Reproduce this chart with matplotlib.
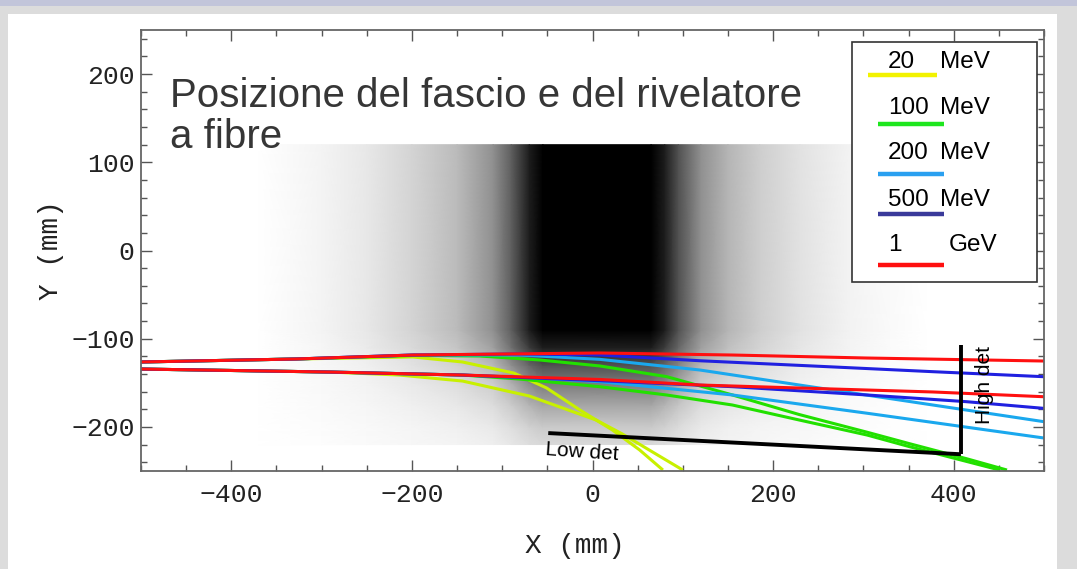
import numpy as np
import matplotlib
matplotlib.use("Agg")
import matplotlib.pyplot as plt
from matplotlib.patches import Rectangle
from matplotlib.lines import Line2D
from matplotlib.ticker import MultipleLocator

# ---------------- data (mm) ----------------
# beam intensity profiles (darkness 0..1)
beam_x = [-370, -300, -250, -200, -150, -110, -90, -70, -55, 65, 80, 95, 120, 150, 185, 230, 285, 330, 370]
beam_xprof = [0.0, 0.09, 0.17, 0.27, 0.38, 0.52, 0.7, 0.9, 1.0, 1.0, 0.9, 0.75, 0.52, 0.4, 0.3, 0.2, 0.1, 0.04, 0.0]
beam_y = [-220, -200, -175, -150, -130, -110, -90, 120]
beam_yprof = [0.25, 0.32, 0.45, 0.6, 0.75, 0.9, 1.0, 1.0]

# 20 MeV tracks
e20_up_x = [-500, -328, -199, -144, -87, -51, -14, 22, 52, 78]
e20_up_y = [-126.4, -123, -120.7, -126.4, -139, -155.8, -180.8, -203.5, -226, -248.9]
e20_lo_x = [-500, -291, -214, -144, -70, 4, 33, 100]
e20_lo_y = [-134.4, -137.8, -141.2, -148, -165, -192.2, -208, -248.9]
# 100 MeV tracks
e100_up_x = [-500, -328, -198, -125, -59, 8, 82, 155, 229, 304, 351, 414, 459]
e100_up_y = [-126.4, -123, -119, -119.6, -124.1, -130.9, -143, -163.8, -186, -206, -219, -236, -248.9]
e100_lo_x = [-500, -291, -144, -81, 8, 82, 155, 229, 304, 351, 451]
e100_lo_y = [-134.4, -137.8, -141.2, -145.7, -154.4, -163.8, -175.2, -192.2, -209.2, -222.4, -248.9]
# 200 MeV tracks
e200_up_x = [-500, -328, -199, -81, 8, 119, 229, 340, 500]
e200_up_y = [-126.4, -123, -118.5, -118.5, -123.4, -135.5, -152.5, -169.5, -194.1]
e200_lo_x = [-500, -291, -144, -59, 8, 155, 304, 500]
e200_lo_y = [-134.4, -137.8, -141.2, -144.6, -148.7, -163.8, -184.5, -212.6]
# 500 MeV tracks
e500_up_x = [-500, -328, -199, -81, 8, 119, 266, 377, 500]
e500_up_y = [-126.4, -123, -118.5, -117.3, -118.5, -125, -132, -137.4, -143.1]
e500_lo_x = [-500, -291, -144, 8, 155, 304, 414, 500]
e500_lo_y = [-134.4, -137.8, -141.2, -147.6, -154.4, -163.8, -171.4, -179]
# 1 GeV tracks
e1g_up_x = [-500, -328, -199, 8, 155, 304, 500]
e1g_up_y = [-126.4, -123, -118.5, -116.2, -118.5, -121.9, -125.3]
e1g_lo_x = [-500, -291, -144, 8, 119, 229, 377, 500]
e1g_lo_y = [-134.4, -137.8, -141.2, -146.2, -152.5, -155.9, -160.4, -165.8]

# detectors
det_low_x = [-49, 408]
det_low_y = [-207, -231]
det_high_x = [408, 408]
det_high_y = [-231, -107]

x_ticks = [-400, -200, 0, 200, 400]
y_ticks = [-200, -100, 0, 100, 200]

legend_numbers = ["20", "100", "200", "500", "1"]
legend_units = ["MeV", "MeV", "MeV", "MeV", "GeV"]

# ---------------- figure ----------------
fig = plt.figure(figsize=(10.77, 5.69), dpi=100)
fig.patch.set_facecolor("#dcdcdc")
fig.add_artist(Rectangle((8 / 1077, 0), (1057 - 8) / 1077, (569 - 14) / 569,
                         transform=fig.transFigure, facecolor="white",
                         edgecolor="none", zorder=-10))
fig.add_artist(Rectangle((0, 1 - 6 / 569), 1, 6 / 569, transform=fig.transFigure,
                         facecolor="#c2c5da", edgecolor="none", zorder=-10))

ax = fig.add_axes([141 / 1077, 1 - 471 / 569, 903 / 1077, 441 / 569])
ax.set_xlim(-500, 500)
ax.set_ylim(-250, 250)

# beam image
C = np.outer(beam_yprof, beam_xprof)
ax.pcolormesh(beam_x, beam_y, C, shading="gouraud", cmap="Greys",
              vmin=0, vmax=1, zorder=0.5)

track_sets = [
    ((e20_up_x, e20_up_y), (e20_lo_x, e20_lo_y), "#c8f000"),
    ((e100_up_x, e100_up_y), (e100_lo_x, e100_lo_y), "#22e000"),
    ((e200_up_x, e200_up_y), (e200_lo_x, e200_lo_y), "#1aa8ee"),
    ((e500_up_x, e500_up_y), (e500_lo_x, e500_lo_y), "#2020e0"),
    ((e1g_up_x, e1g_up_y), (e1g_lo_x, e1g_lo_y), "#ff1010"),
]
for up, lo, col in track_sets:
    ax.plot(up[0], up[1], color=col, lw=2.2, zorder=2, solid_capstyle="butt")
    ax.plot(lo[0], lo[1], color=col, lw=2.2, zorder=2, solid_capstyle="butt")

ax.plot(det_low_x, det_low_y, color="black", lw=2.8, zorder=3, solid_capstyle="butt")
ax.plot(det_high_x, det_high_y, color="black", lw=2.8, zorder=3, solid_capstyle="butt")

ax.text(-12, -228.5, "Low det", family="Liberation Sans", fontsize=15,
        rotation=-4, ha="center", va="center", color="black", zorder=4)
ax.text(434, -152.5, "High det", family="Liberation Sans", fontsize=15,
        rotation=90, ha="center", va="center", color="black", zorder=4)

ax.text(-468, 116, "Posizione del fascio e del rivelatore\na fibre",
        family="Liberation Sans", fontsize=29, color="#363636",
        ha="left", va="baseline", linespacing=1.12, zorder=5)

# legend box (custom, text above coloured line)
ax.add_patch(Rectangle((0.787, 0.4286), 0.992 - 0.787, 0.9735 - 0.4286,
                       transform=ax.transAxes, facecolor="white",
                       edgecolor="#333333", lw=1.2, zorder=6))
leg_colors = ["#f2f200", "#1ee61e", "#2aa0f0", "#3a3a9a", "#ff1010"]
leg_text_y = [0.928, 0.823, 0.721, 0.6145, 0.5125]
leg_line_y = [0.898, 0.787, 0.673, 0.582, 0.4664]
leg_line_x0 = [0.805, 0.816, 0.816, 0.816, 0.816]
leg_line_x1 = [0.881, 0.889, 0.889, 0.889, 0.889]
leg_unit_x = [0.885, 0.885, 0.885, 0.885, 0.894]
for i in range(5):
    ax.add_line(Line2D([leg_line_x0[i], leg_line_x1[i]], [leg_line_y[i]] * 2,
                       transform=ax.transAxes, color=leg_colors[i], lw=3.2,
                       zorder=7, solid_capstyle="butt"))
    ax.text(0.827, leg_text_y[i], legend_numbers[i], transform=ax.transAxes,
            family="Liberation Sans", fontsize=17.5, ha="left", va="center",
            color="black", zorder=7)
    ax.text(leg_unit_x[i], leg_text_y[i], legend_units[i], transform=ax.transAxes,
            family="Liberation Sans", fontsize=17.5, ha="left", va="center",
            color="black", zorder=7)

# axes styling
ax.set_xticks(x_ticks)
ax.set_yticks(y_ticks)
ax.xaxis.set_minor_locator(MultipleLocator(50))
ax.yaxis.set_minor_locator(MultipleLocator(20))
ax.tick_params(which="both", direction="in", top=True, right=True,
               color="#555555", width=1.0)
ax.tick_params(which="major", length=8)
ax.tick_params(which="minor", length=4)
ax.tick_params(axis="x", pad=9)
ax.tick_params(axis="y", pad=4.5)
for lab in ax.get_xticklabels() + ax.get_yticklabels():
    lab.set_family("Liberation Mono")
    lab.set_fontsize(19)
    lab.set_color("#222222")
for sp in ax.spines.values():
    sp.set_color("#666666")
    sp.set_linewidth(1.3)

ax.set_xlabel("X (mm)", family="Liberation Mono", fontsize=20, color="#222222")
ax.set_ylabel("Y (mm)", family="Liberation Mono", fontsize=20, color="#222222")
ax.xaxis.set_label_coords(0.4806, -0.1406)
ax.yaxis.set_label_coords(-0.085, 0.501)

fig.savefig("out.png", dpi=100, facecolor=fig.get_facecolor())
